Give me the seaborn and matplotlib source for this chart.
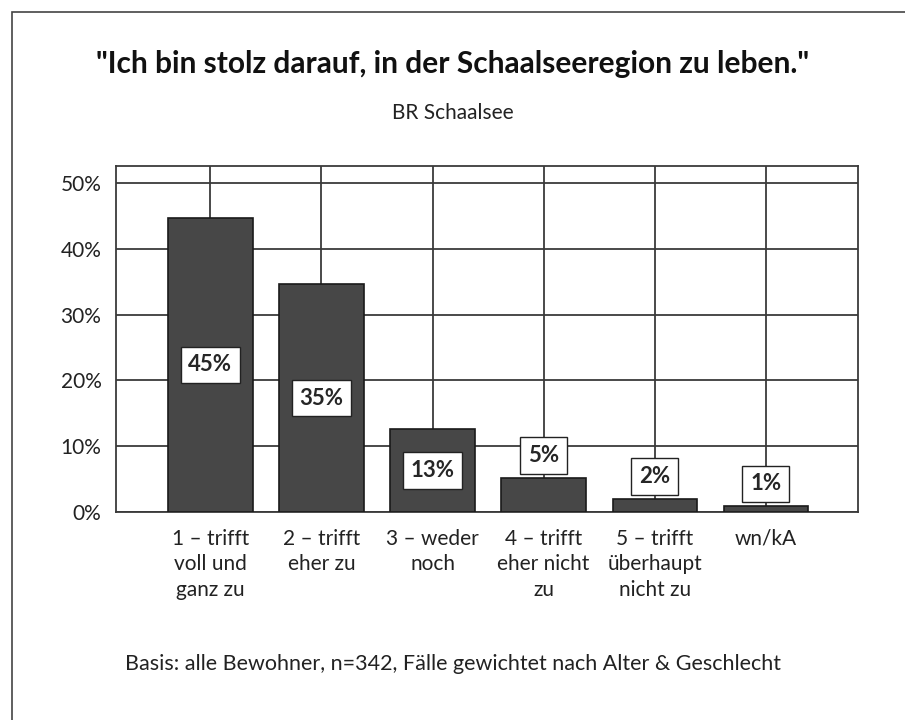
import matplotlib
matplotlib.use("Agg")
import matplotlib.pyplot as plt
from matplotlib.patches import Rectangle
from matplotlib.ticker import FuncFormatter
import seaborn as sns
import pandas as pd

# values (percent of respondents)
categories = ["1 – trifft\nvoll und\nganz zu", "2 – trifft\neher zu", "3 – weder\nnoch",
              "4 – trifft\neher nicht\nzu", "5 – trifft\nüberhaupt\nnicht zu", "wn/kA"]
shares = [44.7, 34.6, 12.6, 5.2, 2.0, 0.9]
yticks = [0, 10, 20, 30, 40, 50]

title = '"Ich bin stolz darauf, in der Schaalseeregion zu leben."'
subtitle = "BR Schaalsee"
footer = "Basis: alle Bewohner, n=342, Fälle gewichtet nach Alter & Geschlecht"

sns.set_style("white")
plt.rcParams["font.family"] = ["Lato", "DejaVu Sans"]

df = pd.DataFrame({"answer": categories, "share": shares})

fig = plt.figure(figsize=(9.05, 7.2), dpi=100)
ax = fig.add_axes([116 / 905, 1 - 512 / 720, (858 - 116) / 905, (512 - 166) / 720])

sns.barplot(data=df, x="answer", y="share", color="#474747", saturation=1,
            width=0.76, edgecolor="#1a1a1a", linewidth=1.2, ax=ax, zorder=3)

ax.set_xlim(-0.85, 5.83)
ax.set_ylim(0, 52.6)
ax.set_yticks(yticks)
ax.yaxis.set_major_formatter(FuncFormatter(lambda v, p: "{:.0f}%".format(v)))
ax.set_xlabel("")
ax.set_ylabel("")

ax.set_axisbelow(True)
ax.grid(True, color="#3a3a3a", linewidth=1.3)
for s in ax.spines.values():
    s.set_visible(True)
    s.set_color("#3a3a3a")
    s.set_linewidth(1.3)

ax.tick_params(axis="both", direction="out", length=7, width=1.3, color="#3a3a3a",
               labelsize=15, labelcolor="#222222")
ax.tick_params(axis="x", pad=5)
for lbl in ax.get_xticklabels():
    lbl.set_linespacing(1.35)

box = dict(boxstyle="square,pad=0.35", facecolor="white", edgecolor="#222222", linewidth=1)
for i, v in enumerate(shares):
    txt = "{:.0f}%".format(v)
    if v >= 10:
        ax.text(i, v / 2, txt, ha="center", va="center", fontsize=16,
                fontweight="bold", bbox=box, zorder=5)
    else:
        ax.annotate(txt, (i, v), xytext=(0, 16), textcoords="offset points",
                    ha="center", va="center", fontsize=16, fontweight="bold",
                    bbox=box, zorder=5)

fig.text(0.5, 1 - 64 / 720, title, ha="center", va="center", fontsize=21.5,
         fontweight="bold", color="#111111")
fig.text(0.5, 1 - 113 / 720, subtitle, ha="center", va="center", fontsize=15,
         color="#222222")
fig.text(0.5, 1 - 664 / 720, footer, ha="center", va="center", fontsize=15.5,
         color="#222222")

# outer frame around the chart
fig.patches.append(Rectangle((12 / 905, -0.05), 1.2, 1 - 12 / 720 + 0.05,
                             transform=fig.transFigure, fill=False,
                             edgecolor="#444444", linewidth=1.2))

fig.savefig("out.png", dpi=100)
